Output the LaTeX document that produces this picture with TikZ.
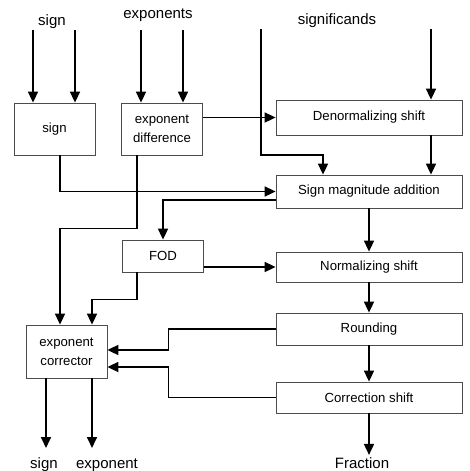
\documentclass[tikz,border=0pt]{standalone}
\usepackage{fontspec}
\setmainfont{Liberation Sans}
\usetikzlibrary{arrows.meta}
\begin{document}
\begin{tikzpicture}
  [x=1pt,y=-1pt,
   lbox/.style={draw=black!70,line width=.8pt,minimum width=81pt,minimum height=52pt,
     inner sep=1pt,align=center,font=\fontsize{13.2}{19}\selectfont},
   rbox/.style={lbox,minimum width=186pt,minimum height=32pt},
   lbl/.style={anchor=base,inner sep=2pt,font=\fontsize{15}{17}\selectfont},
   conn/.style={black,line width=1.7pt,-{Triangle[length=11pt,width=10pt]}}]
\useasboundingbox (0,0) rectangle (469,471);

\node (sgn)[lbox] at (54.5,129) {sign};
  \node (expdiff)[lbox] at (162,129) {exponent\\difference};
  \node (fod)[lbox,minimum height=32pt] at (163,256) {FOD};
  \node (expcor)[lbox,minimum height=53pt] at (66.5,351.5) {exponent\\corrector};
  \node (denorm)[rbox,minimum height=35pt] at (369,117.5) {Denormalizing shift};
  \node (sma)[rbox,minimum height=33pt] at (369,191.5) {Sign magnitude addition};
  \node (norm)[rbox,minimum height=30pt] at (369,267) {Normalizing shift};
  \node (rnd)[rbox] at (369,329) {Rounding};
  \node (corr)[rbox,minimum height=31pt] at (369,397.5) {Correction shift};

  \node (insign)[lbl] at (52,25) {sign};
  \node (inexp)[lbl] at (158,18) {exponents};
  \node (insig)[lbl] at (337,24) {significands};
  \node (outsign)[lbl] at (44,468) {sign};
  \node (outexp)[lbl] at (107,468) {exponent};
  \node (frac)[lbl] at (362,468) {Fraction};

  \coordinate (sa) at (33,30);
  \coordinate (sb) at (75,30);
  \coordinate (ea) at (141,30);
  \coordinate (eb) at (183,30);
  \coordinate (fa) at (261,29);
  \coordinate (fb) at (431,29);
  \coordinate (os) at (46,448);
  \coordinate (oe) at (92,448);

 \foreach \from/\to in {sa/sgn,sb/sgn,ea/expdiff,eb/expdiff,fb/denorm}
    \draw[conn] (\from) -- (\from |- \to.north);
 \foreach \from/\to in {sma/norm,norm/rnd,rnd/corr}
    \draw[conn] (\from) -- (\to);
 \foreach \to in {os,oe}
    \draw[conn] (expcor.south -| \to) -- (\to);

  \draw[conn] (denorm.south -| fb) -- (sma.north -| fb);
  \draw[conn] (corr.south) -- (corr.south |- frac.north);
  \draw[conn] (fa) -- ++(0,126) -| ([xshift=-46pt]sma.north);
  \draw[conn] (expdiff.east |- denorm.west) -- (denorm.west);
  \draw[conn] ([xshift=5.5pt]sgn.south) |- (sma.west);
  \draw[conn] ([xshift=-25pt]expdiff.south) -- ++(0,73) -| ([xshift=-6.5pt]expcor.north);
  \draw[conn] ([yshift=-8.5pt]sma.west) -| (fod.north);
  \draw[conn] (fod.east |- norm.west) -- (norm.west);
  \draw[conn] ([xshift=-26pt]fod.south) -- ++(0,27) -| ([xshift=25.5pt]expcor.north);
  \draw[conn] (rnd.west) -- ++(-107,0) |- ([yshift=1.5pt]expcor.east);
  \draw[conn] (corr.west) -- ++(-107,0) |- ([yshift=-15.5pt]expcor.east);
\end{tikzpicture}
\end{document}
